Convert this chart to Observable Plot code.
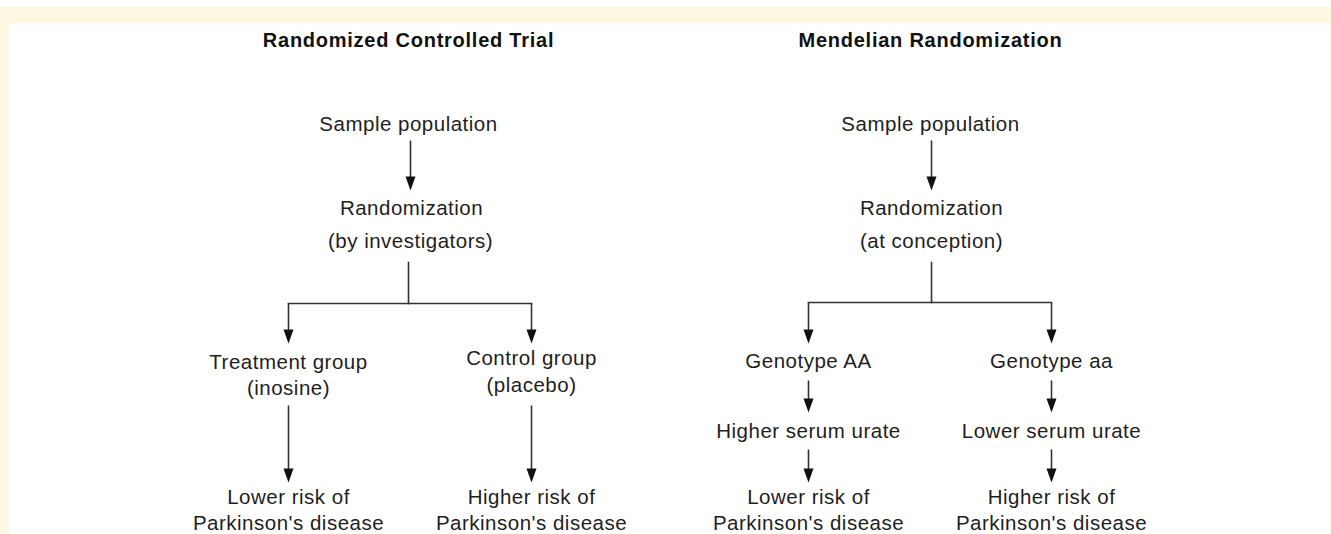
<!DOCTYPE html>
<html>
<head>
<meta charset="utf-8">
<script src="https://cdn.jsdelivr.net/npm/d3@7"></script>
<script src="https://cdn.jsdelivr.net/npm/@observablehq/plot@0.6"></script>
<style>
  html, body { margin: 0; padding: 0; background: #ffffff; }
  #frame { position: relative; width: 1331px; height: 534px; overflow: hidden; background: #ffffff; }
  #cream { position: absolute; left: 0; top: 7px; width: 1331px; height: 527px; background: #fef8e2; }
  #paper { position: absolute; left: 9px; top: 23px; width: 1321px; height: 511px; background: #ffffff; }
  #chart { position: absolute; left: 0; top: 0; }
</style>
</head>
<body>
<div id="frame"><div id="cream"></div><div id="paper"></div><div id="chart"></div></div>
<script>
// ---- Content ----
const panelTitles = ["Randomized Controlled Trial", "Mendelian Randomization"];

// node labels (text of each flowchart node, line by line)
const nodeText = [
  "Sample population", "Randomization", "(by investigators)",
  "Treatment group", "(inosine)", "Control group", "(placebo)",
  "Lower risk of", "Parkinson's disease", "Higher risk of", "Parkinson's disease",
  "Sample population", "Randomization", "(at conception)",
  "Genotype AA", "Genotype aa", "Higher serum urate", "Lower serum urate",
  "Lower risk of", "Parkinson's disease", "Higher risk of", "Parkinson's disease"
];

// ---- Layout (diagram coordinates) ----
const titleX = [408, 930];
const titleY = [46, 46];
const nodeX = [
  408, 411, 410,
  288, 288, 531, 531,
  288, 288, 531, 531,
  930, 931, 931,
  808, 1051, 808, 1051,
  808, 808, 1051, 1051
];
const nodeY = [
  130, 214, 247,
  368, 394, 364, 391,
  503, 529, 503, 529,
  130, 214, 247,
  367, 367, 437, 437,
  503, 529, 503, 529
];

// arrows: x, start y, tip y
const arrowX  = [410, 288, 531, 288, 531, 931, 808, 1051, 808, 1051, 808, 1051];
const arrowY1 = [140, 303, 303, 405, 405, 140, 302, 302, 380, 380, 449, 449];
const arrowY2 = [190, 343, 343, 482, 482, 190, 343, 343, 412, 412, 482, 482];

// plain connector segments
const segX1 = [408, 288, 931, 808];
const segY1 = [262, 303, 262, 302];
const segX2 = [408, 531, 931, 1051];
const segY2 = [303, 303, 302, 302];

const titles = panelTitles.map((t, i) => ({text: t, x: titleX[i], y: titleY[i]}));
const nodes = nodeText.map((t, i) => ({text: t, x: nodeX[i], y: nodeY[i]}));
const headLen = 14;
const arrows = arrowX.map((x, i) => ({x, y1: arrowY1[i], y2: arrowY2[i]}));
const segs = segX1.map((x1, i) => ({x1, y1: segY1[i], x2: segX2[i], y2: segY2[i]}));

// downward filled triangle with its tip at the anchor
const arrowHead = {
  draw(ctx) {
    ctx.moveTo(-5, -headLen);
    ctx.lineTo(5, -headLen);
    ctx.lineTo(0, 0);
    ctx.closePath();
  }
};

const ink = "#333333";
const plot = Plot.plot({
  width: 1331,
  height: 534,
  margin: 0,
  x: {type: "linear", domain: [0, 1331], range: [0, 1331], axis: null},
  y: {type: "linear", domain: [0, 534], range: [0, 534], axis: null},
  style: {background: "transparent", fontFamily: "'Liberation Sans', Arial, Helvetica, sans-serif"},
  marks: [
    Plot.link(segs, {x1: "x1", y1: "y1", x2: "x2", y2: "y2", stroke: ink, strokeWidth: 1.6, strokeLinecap: "square"}),
    Plot.link(arrows, {x1: "x", y1: "y1", x2: "x", y2: d => d.y2 - headLen + 2, stroke: ink, strokeWidth: 1.6}),
    Plot.dot(arrows, {x: "x", y: "y2", symbol: arrowHead, r: 5, fill: "#111111", stroke: "none"}),
    Plot.text(titles, {x: "x", y: "y", text: "text", lineAnchor: "bottom", textAnchor: "middle",
      fontSize: 20, fontWeight: "bold", fill: "#111111"}),
    Plot.text(nodes, {x: "x", y: "y", text: "text", lineAnchor: "bottom", textAnchor: "middle",
      fontSize: 20.5, fill: "#1e1e1e"})
  ]
});
plot.querySelectorAll("text").forEach(t => {
  t.style.letterSpacing = t.getAttribute("font-weight") === "bold" ? "0.75px" : "0.5px";
});
plot.querySelectorAll("g[aria-label='text']").forEach(g => {
  const bold = g.getAttribute("font-weight") === "bold";
  g.querySelectorAll("text").forEach(t => t.style.letterSpacing = bold ? "0.75px" : "0.5px");
});
document.getElementById("chart").appendChild(plot);
</script>
</body>
</html>
